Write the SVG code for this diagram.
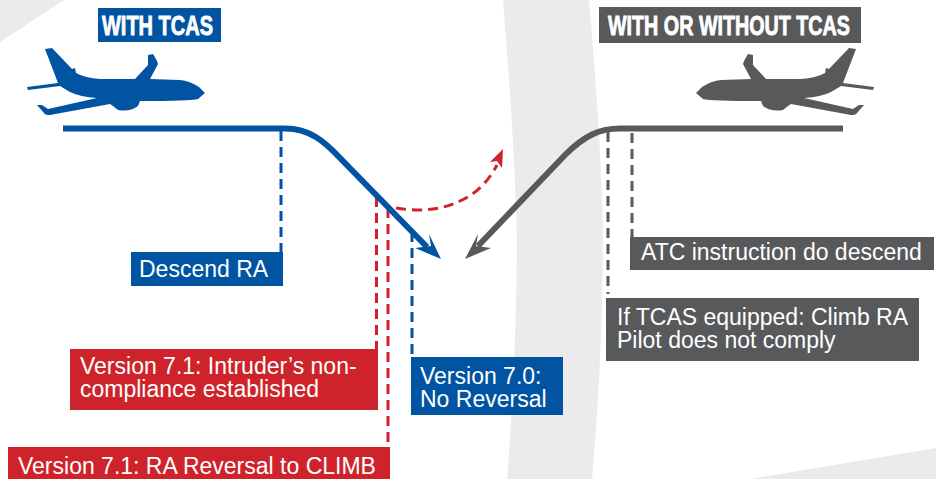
<svg xmlns="http://www.w3.org/2000/svg" width="936" height="479" viewBox="0 0 936 479">
<style>
text{font-family:"Liberation Sans",Arial,sans-serif;font-size:23px;fill:#fff}
.h{font-weight:bold;font-size:28px;stroke:#fff;stroke-width:.9px}
.blue{fill:#0054a2}.red{fill:#cf232b}.gray{fill:#58595b}.bg{fill:#ebebeb}
.ln{fill:none;stroke-width:6px}
.d{fill:none;stroke-width:3px;stroke-dasharray:10 6}
.db{stroke:#0054a2}.dr{stroke:#cf232b}.dg{stroke:#58595b}
</style>
<defs>
<path id="plane" d="M45 49L52 48L72 69L75 68L76 73Q85 78 100 79L135 79L148 65L148 55L153 54L157 61L158 64L150 79L180 80Q190 81 199 87L205 93L198 99Q190 101 140 101L138 106Q130 112 118 110L113 106L110 104L50 115Q45 115 44 113L37 105L42 105L48 109L97 98Q80 97 70 92L60 86L28 90L27 87L58 83Z"/>
</defs>
<g id="background">
<path class="bg" d="M0 0H64L0 42Z"/>
<path class="bg" d="M503 0H589Q602 150 603 240Q602 370 592 479H507Q516 370 517 240Q515 150 503 0Z"/>
<path class="bg" d="M750 479L936 448V479Z"/>
</g>
<g id="connectors">
<path class="d db" d="M281 131V252"/>
<path class="d dr" d="M376.500 197V349"/>
<path class="d dr" d="M388 208V447"/>
<path class="d db" d="M412 232V354"/>
<path class="d dg" d="M608 132V294"/>
<path class="d dg" d="M632 133V238"/>
<path class="d dr" d="M396 208C425 213 445 208 460 201C478 193 489 180 497 165"/>
<path class="red" d="M503 149L490 162L497 161L502 168Z"/>
<path class="ln db" d="M63 128.500H285C310 128.500 325 142 340 158L427 247"/>
<path class="blue" d="M441 259L429 234L431 246L415 248Z"/>
<path class="ln dg" d="M843 128.500H620C600 128.500 585 135 565 155L478 246"/>
<path class="gray" d="M465 259L478 234L476 246L491 248Z"/>
</g>
<g id="plane-left"><use href="#plane" class="blue"/></g>
<g id="plane-right"><use href="#plane" class="gray" transform="matrix(-1 0 0 1 901 0)"/></g>
<g id="label-with-tcas"><rect class="blue" x="98" y="8" width="123" height="34"/><text class="h" x="102" y="35" textLength="111" lengthAdjust="spacingAndGlyphs">WITH TCAS</text></g>
<g id="label-with-or-without"><rect class="gray" x="599" y="7" width="262" height="36"/><text class="h" x="608" y="35" textLength="242" lengthAdjust="spacingAndGlyphs">WITH OR WITHOUT TCAS</text></g>
<g id="descend-ra"><rect class="blue" x="131" y="252" width="152" height="34"/><text x="139" y="277">Descend RA</text></g>
<g id="atc"><rect class="gray" x="630" y="237" width="304" height="33"/><text x="641" y="260">ATC instruction do descend</text></g>
<g id="climb-ra"><rect class="gray" x="606" y="298" width="313" height="63"/><text x="617" y="325">If TCAS equipped: Climb RA</text><text x="617" y="348">Pilot does not comply</text></g>
<g id="v71-noncompliance"><rect class="red" x="70" y="349" width="308" height="61"/><text x="80" y="374">Version 7.1: Intruder’s non-</text><text x="80" y="397">compliance established</text></g>
<g id="v70"><rect class="blue" x="411" y="357" width="152" height="58"/><text x="420" y="384">Version 7.0:</text><text x="420" y="407">No Reversal</text></g>
<g id="v71-reversal"><rect class="red" x="8" y="447" width="382" height="32"/><text x="18" y="474">Version 7.1: RA Reversal to CLIMB</text></g>
</svg>
